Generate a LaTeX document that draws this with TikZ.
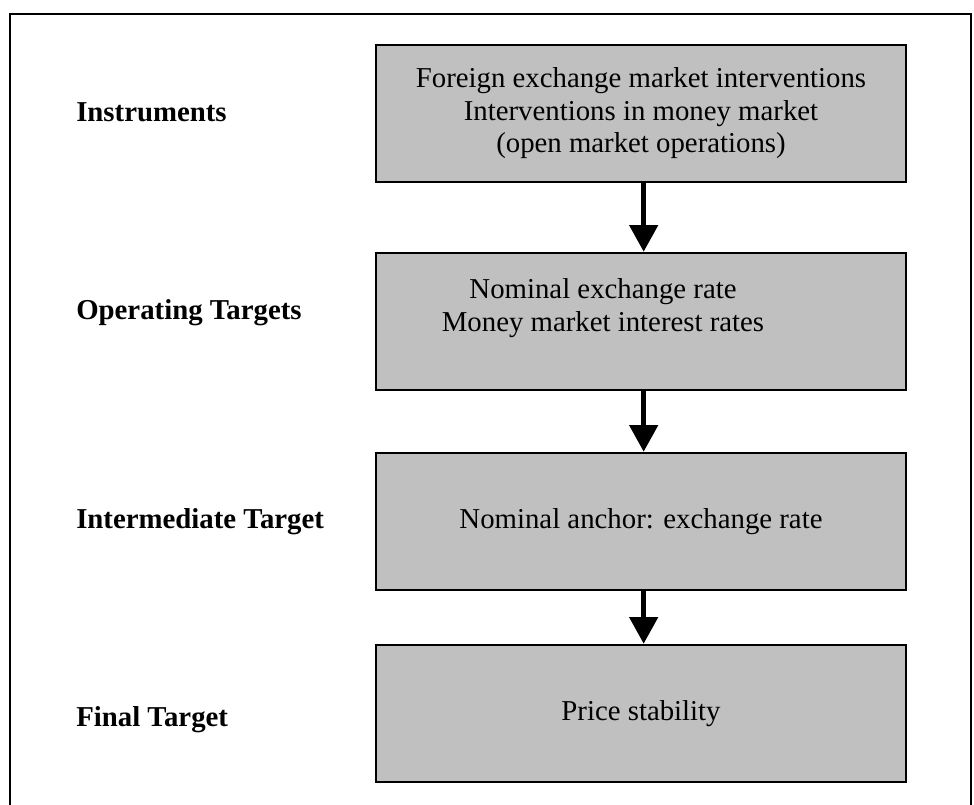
\documentclass[tikz,border=0pt]{standalone}
\usepackage{fontspec}
\setmainfont{Liberation Serif}
\usetikzlibrary{arrows.meta}
\definecolor{boxgray}{HTML}{C0C0C0}
\begin{document}
\begin{tikzpicture}[x=0.75pt,y=-0.75pt,
  stagebox/.style={draw=black,line width=1.9pt,fill=boxgray,
    minimum width=530*0.75pt,minimum height=137*0.75pt,inner sep=0pt,
    align=center,font=\fontsize{21.6}{24.4}\selectfont},
  levellabel/.style={anchor=base west,inner sep=0pt,
    font=\fontsize{21.6}{24.4}\selectfont\bfseries},
  flow/.style={line width=3.6pt,-{Triangle[width=21pt,length=20pt]}}]
  \useasboundingbox (0,0) rectangle (974,805);
  % open outer frame
  \draw[line width=2.1pt] (10,805) -- (10,14) -- (971,14) -- (971,805);

  % stages
  \node[stagebox] (instr) at (641,113.5)
    {Foreign exchange market interventions\\Interventions in money market\\(open market operations)};
  \node[stagebox] (oper) at (641,321.5)
    {\raisebox{9.75pt}[\height][\depth]{\begin{tabular}{@{}c@{}}Nominal exchange rate\\Money market interest rates\end{tabular}}\hspace*{57pt}};
  \node[stagebox] (inter) at (641,521.5) {Nominal anchor: exchange rate};
  \node[stagebox] (final) at (641,713.5) {Price stability};

  % level labels
  \node[levellabel] (linstr) at (76,122) {Instruments};
  \node[levellabel] (loper) at (76,320) {Operating Targets};
  \node[levellabel] (linter) at (76,528) {Intermediate Target};
  \node[levellabel] (lfinal) at (76,726) {Final Target};

  % arrows between stages
  \draw[flow] ([xshift=2pt]instr.south) -- ([xshift=2pt]oper.north);
  \draw[flow] ([xshift=2pt]oper.south) -- ([xshift=2pt]inter.north);
  \draw[flow] ([xshift=2pt]inter.south) -- ([xshift=2pt]final.north);
\end{tikzpicture}
\end{document}
